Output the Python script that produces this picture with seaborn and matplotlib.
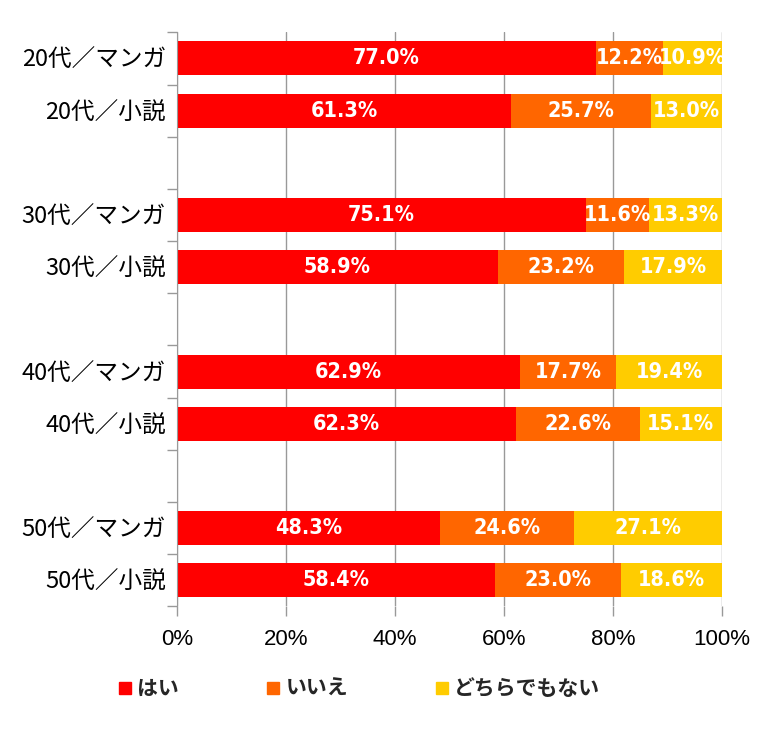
import numpy as np
import pandas as pd
import matplotlib.pyplot as plt
from matplotlib.lines import Line2D
import seaborn as sns

# Survey answers (%), one row per age group / genre
groups = ["20代／マンガ", "20代／小説", "30代／マンガ", "30代／小説",
          "40代／マンガ", "40代／小説", "50代／マンガ", "50代／小説"]
hai = [77.0, 61.3, 75.1, 58.9, 62.9, 62.3, 48.3, 58.4]
iie = [12.2, 25.7, 11.6, 23.2, 17.7, 22.6, 24.6, 23.0]
dochira = [10.9, 13.0, 13.3, 17.9, 19.4, 15.1, 27.1, 18.6]
answers = ["はい", "いいえ", "どちらでもない"]
colors = ["#FF0000", "#FF6600", "#FFCC00"]

# empty rows between the age groups
order = [groups[0], groups[1], "gap1", groups[2], groups[3], "gap2",
         groups[4], groups[5], "gap3", groups[6], groups[7]]

df = pd.DataFrame({"group": groups, "hai": hai, "iie": iie, "dochira": dochira})
total = df["hai"] + df["iie"] + df["dochira"]
# 100% stacked: scale each row to its total
df["c1"] = df["hai"] / total * 100
df["c2"] = (df["hai"] + df["iie"]) / total * 100
df["c3"] = 100.0

sns.set_style("white")
plt.rcParams["font.family"] = ["Noto Sans CJK JP", "DejaVu Sans"]

fig, ax = plt.subplots(figsize=(7.68, 7.35), dpi=100)
fig.subplots_adjust(left=0.2305, right=0.94, top=0.956, bottom=0.175)

for col, c in zip(["c3", "c2", "c1"], colors[::-1]):
    sns.barplot(data=df, y="group", x=col, order=order, color=c,
                saturation=1, width=0.65, errorbar=None, linewidth=0, ax=ax)

# value labels
for i, row in df.iterrows():
    y = order.index(row["group"])
    lefts = [0, row["c1"], row["c2"]]
    rights = [row["c1"], row["c2"], row["c3"]]
    vals = [row["hai"], row["iie"], row["dochira"]]
    for l, r, v in zip(lefts, rights, vals):
        ax.text((l + r) / 2, y, f"{v:.1f}%", ha="center", va="center",
                color="white", fontsize=15.5, fontweight="bold",
                family="DejaVu Sans", fontstretch="condensed")

ax.set_xlim(0, 100)
ax.set_ylim(len(order) - 0.5, -0.5)
ax.set_xticks([0, 20, 40, 60, 80, 100])
ax.set_xticklabels(["0%", "20%", "40%", "60%", "80%", "100%"], fontsize=16,
                   family="Liberation Sans")
ax.set_yticks(range(len(order)))
ax.set_yticklabels([g if not g.startswith("gap") else "" for g in order],
                   fontsize=17, color="black")
ax.set_yticks(np.arange(-0.5, len(order)), minor=True)
ax.tick_params(axis="y", which="major", length=0, pad=8)
ax.tick_params(axis="y", which="minor", length=7, color="#999999", width=1, left=True)
ax.tick_params(axis="x", length=7, color="#999999", width=1, bottom=True, pad=9,
               labelcolor="black")
ax.set_xlabel("")
ax.set_ylabel("")

ax.grid(axis="x", color="#999999", linewidth=1)
ax.set_axisbelow(True)
for s in ["top", "right", "bottom"]:
    ax.spines[s].set_visible(False)
ax.spines["left"].set_color("#999999")

handles = [Line2D([], [], marker="s", linestyle="none", color=c, markersize=8)
           for c in colors]
fig.legend(handles, answers, loc="center left", bbox_to_anchor=(0.13, 0.063),
           ncol=3, frameon=False, handlelength=0.6, handletextpad=0.3,
           columnspacing=4.2, prop={"size": 15, "weight": "bold"})

fig.savefig("out.png", dpi=100)
